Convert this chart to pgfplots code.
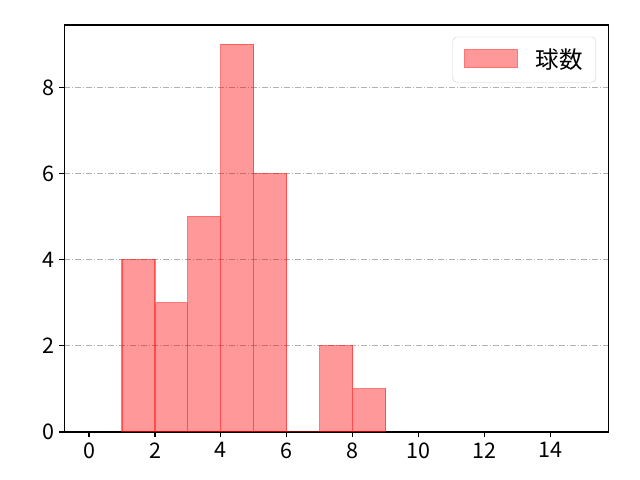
\documentclass[border=0pt]{standalone}
\usepackage{pgfplots}
\pgfplotsset{compat=1.18}
\usepackage{fontspec}
\setmainfont{Noto Sans CJK JP}
\begin{document}
\begin{tikzpicture}
\useasboundingbox (-64.3bp,-48bp) rectangle (575.7bp,432bp);
\begin{axis}[
  at={(0,0)}, anchor=south west,
  scale only axis, width=544bp, height=407bp,
  xmin=-0.75, xmax=15.75, ymin=0, ymax=9.45,
  xtick={0,2,...,14}, ytick={0,2,4,6,8},
  tick align=outside, tick pos=lower,
  major tick length=4.9bp,
  every tick/.style={black, line width=1.1bp},
  axis line style={black, line width=1.1bp},
  ymajorgrids, grid style={color=black!31, dash pattern=on 6bp off 2bp on 1bp off 2bp, line width=1.1bp},
  /pgf/number format/assume math mode=true,
  tick label style={font=\fontsize{21.5bp}{24bp}\selectfont},
  xticklabel style={yshift=-2bp},
  yticklabel style={xshift=-1bp},
  legend style={at={(0.9775,0.971)}, anchor=north east, draw=black!20, rounded corners=4bp,
    font=\fontsize{23.5bp}{26bp}\selectfont, inner xsep=11bp, inner ysep=10bp},
  legend image code/.code={\fill[sharp corners, fill=red!40, fill opacity=1, draw=red!55, draw opacity=1, line width=1.1bp] (0bp,-8bp) rectangle (53bp,10bp);},
  legend cell align=left,
]
\addplot[ybar interval, fill=red, fill opacity=0.4, draw=red, draw opacity=0.5, line width=1.1bp]
  coordinates {(1,4) (2,3) (3,5) (4,9) (5,6) (6,0) (7,2) (8,1) (9,0)};
\addlegendentry{\hspace{16bp}球数}
\end{axis}
\end{tikzpicture}
\end{document}
